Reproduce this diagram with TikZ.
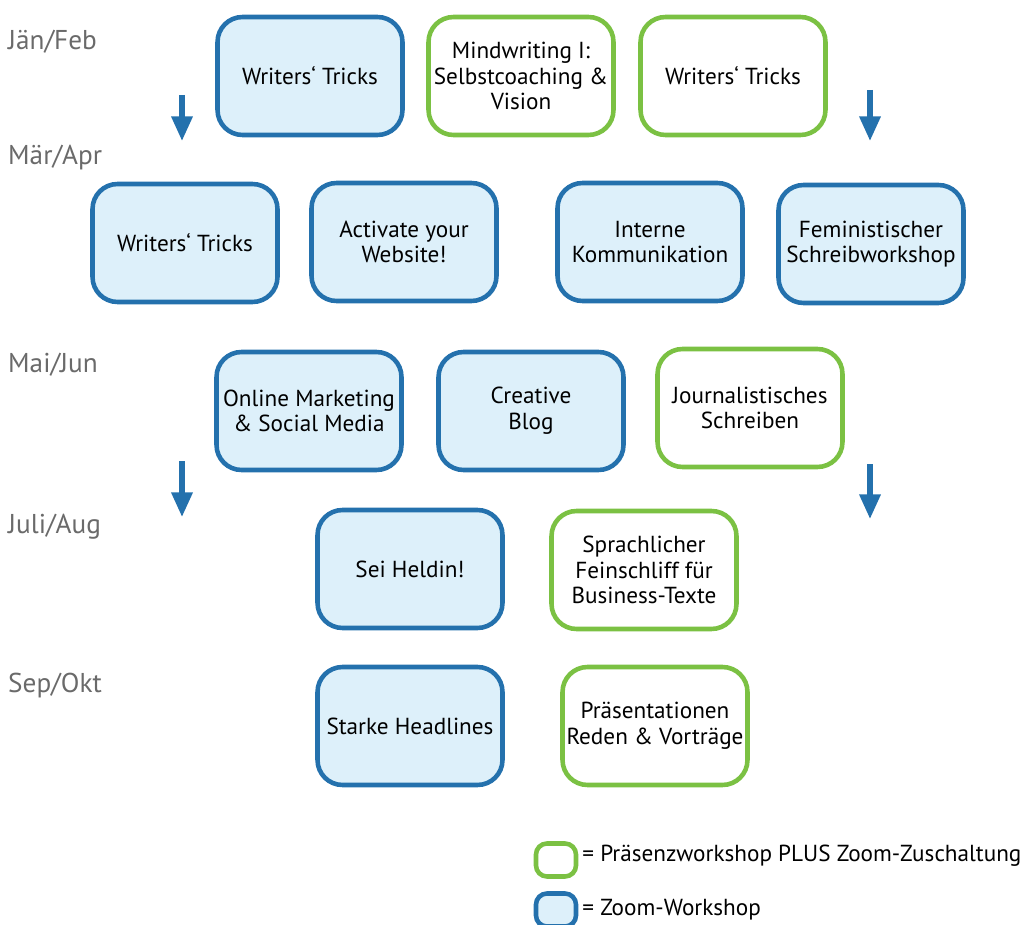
\documentclass[tikz,border=0pt]{standalone}
\usepackage{fontspec}
\setmainfont{PT Sans}
\usetikzlibrary{arrows.meta}

\definecolor{zoomblue}{HTML}{2471AD}
\definecolor{zoomfill}{HTML}{DDF0FA}
\definecolor{plusgreen}{HTML}{7BC143}
\definecolor{monthgray}{HTML}{6A6A6A}

\begin{document}
\begin{tikzpicture}[x=0.02cm,y=-0.02cm,
  font=\fontsize{13.2}{14.6}\selectfont,
  box/.style={rounded corners=0.5cm,line width=2.6pt,minimum width=3.7cm,
    minimum height=2.36cm,align=center,inner sep=2pt},
  zoom node/.style={box,draw=zoomblue,fill=zoomfill},
  plus node/.style={box,draw=plusgreen,fill=white},
  key/.style={rounded corners=0.22cm,line width=2.6pt,minimum width=0.8cm,
    minimum height=0.66cm,inner sep=0pt},
  month/.style={anchor=west,text=monthgray,font=\fontsize{15.5}{17}\selectfont},
  down/.style={draw=zoomblue,line width=3pt,-{Triangle[length=14pt,width=15pt,angle'=45]}}]

  \useasboundingbox (0,0) rectangle (1027,925);

  % months
  \node[month] (jan) at (2,42) {Jän/Feb};
  \node[month] (mar) at (2,158) {Mär/Apr};
  \node[month] (mai) at (2,365) {Mai/Jun};
  \node[month] (jul) at (2,527) {Juli/Aug};
  \node[month] (sep) at (2,686) {Sep/Okt};

  % Jän/Feb
  \node[zoom node] (wt1) at (310,76) {Writers‘ Tricks};
  \node[plus node] (mw) at (521,76) {Mindwriting I:\\Selbstcoaching \&\\Vision};
  \node[plus node] (wt2) at (733,76) {Writers‘ Tricks};

  % Mär/Apr
  \node[zoom node] (wt3) at (185,243) {Writers‘ Tricks};
  \node[zoom node] (web) at (404,242) {Activate your\\Website!};
  \node[zoom node] (ik) at (650,242) {Interne\\Kommunikation};
  \node[zoom node] (fem) at (871,244) {Feministischer\\Schreibworkshop};

  % Mai/Jun
  \node[zoom node] (om) at (309,411) {Online Marketing\\\& Social Media};
  \node[zoom node] (cb) at (531,411) {Creative\\Blog};
  \node[plus node] (js) at (750,408) {Journalistisches\\Schreiben};

  % Juli/Aug
  \node[zoom node] (held) at (410,569) {Sei Heldin!};
  \node[plus node] (fs) at (644,570) {Sprachlicher\\Feinschliff für\\Business-Texte};

  % Sep/Okt
  \node[zoom node] (sh) at (410,726) {Starke Headlines};
  \node[plus node] (pr) at (655,726) {Präsentationen\\Reden \& Vorträge};

  % arrows
  \coordinate (l1a) at (182,95);  \coordinate (l1b) at (182,141);
  \coordinate (r1a) at (870,90);  \coordinate (r1b) at (870,141);
  \coordinate (l2a) at (182,461); \coordinate (l2b) at (182,517);
  \coordinate (r2a) at (870,464); \coordinate (r2b) at (870,519);
  \draw[down] (l1a) -- (l1b);
  \draw[down] (r1a) -- (r1b);
  \draw[down] (l2a) -- (l2b);
  \draw[down] (r2a) -- (r2b);

  % legend
  \node[key,draw=plusgreen,fill=white] (kplus) at (556,860) {};
  \node[key,draw=zoomblue,fill=zoomfill] (kzoom) at (556,910) {};
  \node[anchor=west,inner sep=0pt,font=\fontsize{13.2}{15}\selectfont] (tplus) at (582,856) {= Präsenzworkshop PLUS Zoom-Zuschaltung};
  \node[anchor=west,inner sep=0pt,font=\fontsize{13.2}{15}\selectfont] (tzoom) at (582,910) {= Zoom-Workshop};
\end{tikzpicture}
\end{document}
